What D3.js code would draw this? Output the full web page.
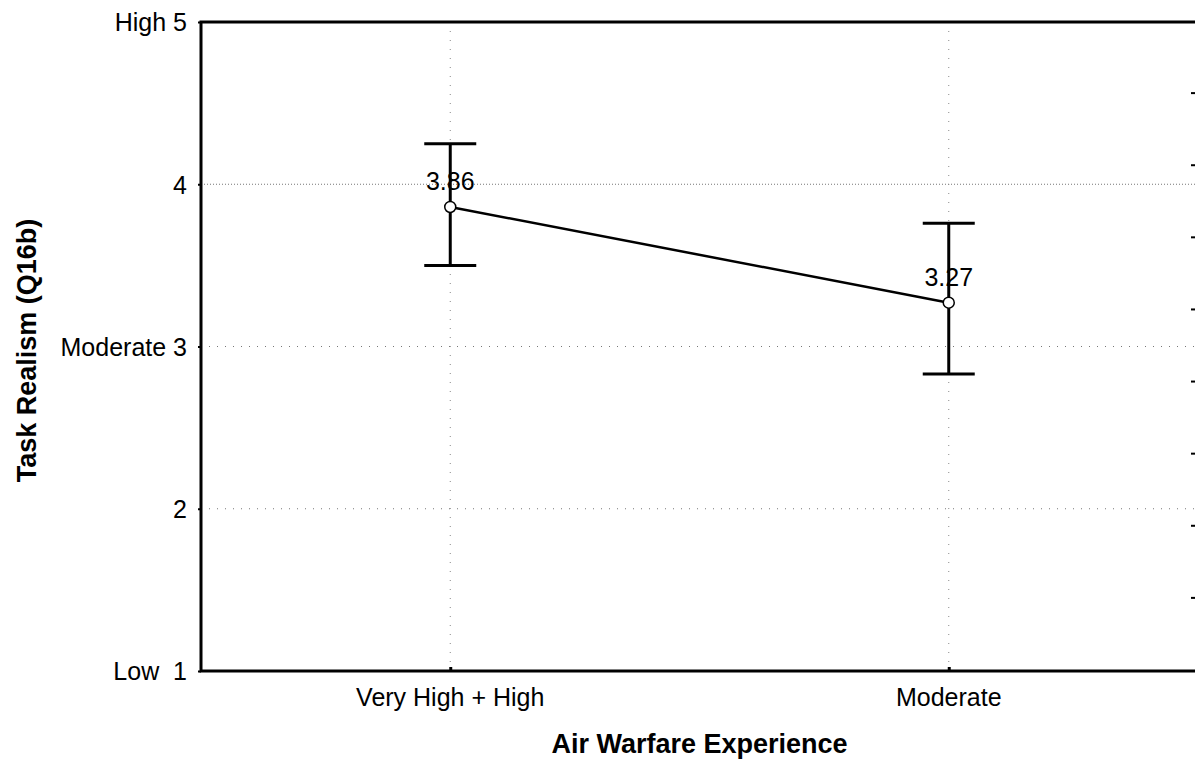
<!DOCTYPE html>
<html>
<head>
<meta charset="utf-8">
<script src="https://cdn.jsdelivr.net/npm/d3@7"></script>
<style>
  body { margin: 0; background: #fff; }
  text { font-family: Arial, "Liberation Sans", sans-serif; fill: #000; }
</style>
</head>
<body>
<div id="d3-container"></div>
<script>
/* CONSTANTS AND GLOBALS */
const width = 1195,
  height = 772,
  margin = { top: 22, bottom: 101, left: 201, right: -3 };

/* DATA */
const categories = ["Very High + High", "Moderate"];
const means = [3.86, 3.27];
const upper = [4.25, 3.76];
const lower = [3.50, 2.83];
const yTicks = [1, 2, 3, 4, 5];
const yTickLabels = { 1: "Low\u00a0\u00a01", 2: "2", 3: "Moderate 3", 4: "4", 5: "High 5" };

const data = categories.map((c, i) => ({ cat: c, mean: means[i], hi: upper[i], lo: lower[i] }));

/* SCALES */
const x = d3.scalePoint()
  .domain(categories)
  .range([margin.left, width - margin.right])
  .padding(0.5);

const y = d3.scaleLinear()
  .domain([1, 5])
  .range([height - margin.bottom, margin.top]);

const svg = d3.select("#d3-container")
  .append("svg")
  .attr("width", width)
  .attr("height", height);

// grid
svg.append("g")
  .selectAll("line.hgrid")
  .data([2, 3, 4])
  .join("line")
  .attr("class", "hgrid")
  .attr("x1", margin.left)
  .attr("x2", width - margin.right)
  .attr("y1", d => y(d))
  .attr("y2", d => y(d))
  .attr("stroke", "#777")
  .attr("stroke-width", 1)
  .attr("stroke-dasharray", d => d === 4 ? "1,2" : "1,7");

svg.append("g")
  .selectAll("line.vgrid")
  .data(categories)
  .join("line")
  .attr("class", "vgrid")
  .attr("x1", d => x(d))
  .attr("x2", d => x(d))
  .attr("y1", margin.top)
  .attr("y2", height - margin.bottom)
  .attr("stroke", "#888")
  .attr("stroke-width", 1)
  .attr("stroke-dasharray", "1,8");

// right side small ticks (secondary axis, cut off)
const yRight = d3.scaleLinear().domain([0, 9]).range([margin.top, height - margin.bottom]);
svg.append("g")
  .selectAll("line")
  .data(d3.range(1, 9))
  .join("line")
  .attr("x1", width - 4)
  .attr("x2", width)
  .attr("y1", d => yRight(d) - 1)
  .attr("y2", d => yRight(d) - 1)
  .attr("stroke", "#000")
  .attr("stroke-width", 2);

// frame
svg.append("rect")
  .attr("x", margin.left)
  .attr("y", margin.top)
  .attr("width", (width - margin.right) - margin.left)
  .attr("height", (height - margin.bottom) - margin.top)
  .attr("fill", "none")
  .attr("stroke", "#000")
  .attr("stroke-width", 3);

// y axis
const yAxis = svg.append("g")
  .attr("transform", `translate(${margin.left},0)`)
  .call(d3.axisLeft(y).tickValues(yTicks).tickSize(3).tickFormat(d => yTickLabels[d]).tickPadding(11));
yAxis.select(".domain").remove();
yAxis.selectAll(".tick line").attr("stroke-width", 2);
yAxis.selectAll(".tick text")
  .attr("font-size", 25)
  .attr("font-family", "Arial, 'Liberation Sans', sans-serif")
  .attr("fill", "#000")
  .attr("dy", "0.35em");

// x axis
const xAxis = svg.append("g")
  .attr("transform", `translate(0,${height - margin.bottom})`)
  .call(d3.axisTop(x).tickSize(4).tickFormat(""));
xAxis.select(".domain").remove();
xAxis.selectAll(".tick line").attr("stroke-width", 3);

svg.append("g")
  .selectAll("text")
  .data(categories)
  .join("text")
  .attr("x", d => x(d))
  .attr("y", height - margin.bottom + 35)
  .attr("text-anchor", "middle")
  .attr("font-size", 25)
  .text(d => d);

// axis titles
svg.append("text")
  .attr("x", (margin.left + width - margin.right) / 2)
  .attr("y", 753)
  .attr("text-anchor", "middle")
  .attr("font-size", 27)
  .attr("font-weight", "bold")
  .text("Air Warfare Experience");

svg.append("text")
  .attr("transform", `translate(36,${y(3) + 4}) rotate(-90)`)
  .attr("text-anchor", "middle")
  .attr("font-size", 27)
  .attr("font-weight", "bold")
  .text("Task Realism (Q16b)");

// error bars
const capHalf = 26;
const bars = svg.append("g")
  .selectAll("g")
  .data(data)
  .join("g");

bars.append("line")
  .attr("x1", d => x(d.cat))
  .attr("x2", d => x(d.cat))
  .attr("y1", d => y(d.hi))
  .attr("y2", d => y(d.lo))
  .attr("stroke", "#000")
  .attr("stroke-width", 3);

bars.selectAll("line.cap")
  .data(d => [{ cat: d.cat, v: d.hi }, { cat: d.cat, v: d.lo }])
  .join("line")
  .attr("class", "cap")
  .attr("x1", d => x(d.cat) - capHalf)
  .attr("x2", d => x(d.cat) + capHalf)
  .attr("y1", d => y(d.v))
  .attr("y2", d => y(d.v))
  .attr("stroke", "#000")
  .attr("stroke-width", 3);

// mean line
svg.append("path")
  .datum(data)
  .attr("fill", "none")
  .attr("stroke", "#000")
  .attr("stroke-width", 2.5)
  .attr("d", d3.line().x(d => x(d.cat)).y(d => y(d.mean)));

// points
svg.append("g")
  .selectAll("circle")
  .data(data)
  .join("circle")
  .attr("cx", d => x(d.cat))
  .attr("cy", d => y(d.mean))
  .attr("r", 5.5)
  .attr("fill", "#fff")
  .attr("stroke", "#000")
  .attr("stroke-width", 1.5);

// value labels
svg.append("g")
  .selectAll("text")
  .data(data)
  .join("text")
  .attr("x", d => x(d.cat))
  .attr("y", d => y(d.mean) - 17)
  .attr("text-anchor", "middle")
  .attr("font-size", 25)
  .text(d => d.mean.toFixed(2));
</script>
</body>
</html>
